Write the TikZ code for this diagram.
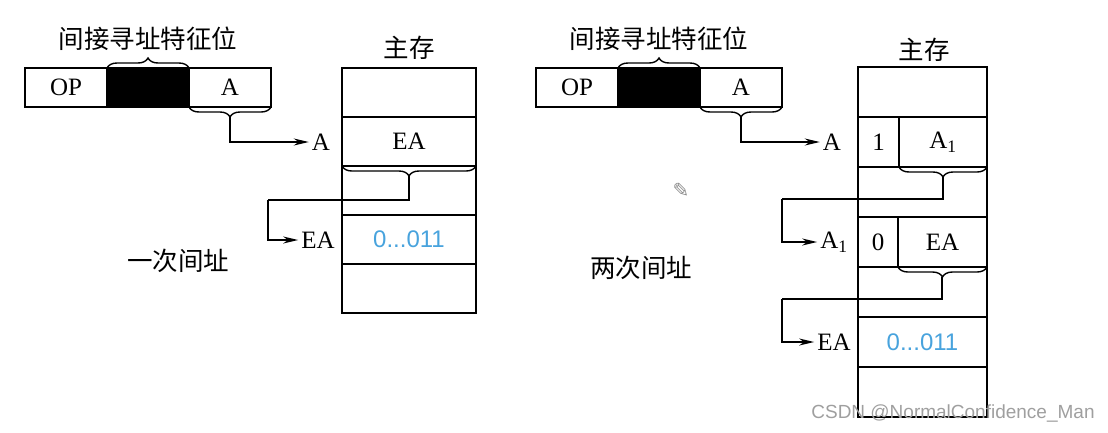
\documentclass[tikz,border=0pt]{standalone}
\usepackage{fontspec}
\setmainfont{Liberation Serif}
\newfontfamily\cjk{Noto Sans CJK SC}
\newfontfamily\sansf{Liberation Sans}
\newfontfamily\dejavu{DejaVu Sans}
\usetikzlibrary{decorations.pathreplacing,arrows.meta}
\definecolor{valblue}{RGB}{72,163,221}
\begin{document}
\begin{tikzpicture}[x=1pt,y=-1pt,
  base/.style={draw,line width=1.4pt,inner sep=0pt,outer sep=0pt,anchor=north west,font=\fontsize{25}{25}\selectfont},
  ins/.style={base,minimum width=82pt,minimum height=39pt},
  meml/.style={base,minimum width=134pt,minimum height=49pt},
  memr/.style={base,minimum height=50pt},
  val/.style={font=\sansf\fontsize{24}{24}\selectfont,text=valblue},
  lab/.style={inner sep=3pt,font=\fontsize{25}{25}\selectfont},
  cn/.style={font=\cjk\fontsize{25.5}{25.5}\selectfont},
  brace/.style={decorate,decoration={brace,amplitude=10pt},line width=1.4pt},
  conn/.style={line width=1.4pt,-{Stealth[length=15pt,width=7pt]}},
  plain/.style={line width=1.4pt}
]
\useasboundingbox (0,0) rectangle (1108,432);

% ---------- left: single indirect ----------
\node[ins] (op1) at (25,68) {OP};
\node[ins,fill=black] (x1) at (107,68) {};
\node[ins] (a1) at (189,68) {A};
\node[cn] (tl1) at (148,39) {间接寻址特征位};
\draw[brace] (x1.north west) -- (x1.north east);
\draw[brace] (a1.south east) -- (a1.south west);

\node[cn] (ml1) at (409,48) {主存};
\node[meml] (m10) at (342,68) {};
\node[meml] (m11) at (342,117) {EA};
\node[meml] (m12) at (342,166) {};
\node[meml] (m13) at (342,215) {};
\node[val] (v1) at (m13.center) {0...011};
\node[meml] (m14) at (342,264) {};
\draw[brace] (m11.south east) -- (m11.south west);

\node[lab] (la1) at (321,142) {A};
\node[lab] (lea1) at (318,240) {EA};
\coordinate (t1) at (230,117);
\coordinate (t2) at (409,176);
\coordinate (k1) at (268,200);
\draw[conn] (t1) |- (la1.west);
\draw[plain] (t2) |- (k1);
\draw[conn] (k1) |- (lea1.west);

\node[cn] (c1) at (178,261) {一次间址};

% ---------- right: double indirect ----------
\node[ins] (op2) at (536,68) {OP};
\node[ins,fill=black] (x2) at (618,68) {};
\node[ins] (a2) at (700,68) {A};
\node[cn] (tl2) at (659,39) {间接寻址特征位};
\draw[brace] (x2.north west) -- (x2.north east);
\draw[brace] (a2.south east) -- (a2.south west);

\node[cn] (ml2) at (924,50) {主存};
\node[memr,minimum width=129pt] (m20) at (858,67) {};
\node[memr,minimum width=41pt] (m21a) at (858,117) {1};
\node[memr,minimum width=88pt] (m21b) at (899,117) {A\textsubscript{1}};
\node[memr,minimum width=129pt] (m22) at (858,167) {};
\node[memr,minimum width=40pt] (m23a) at (858,217) {0};
\node[memr,minimum width=89pt] (m23b) at (898,217) {EA};
\node[memr,minimum width=129pt] (m24) at (858,267) {};
\node[memr,minimum width=129pt] (m25) at (858,317) {};
\node[val] (v2) at (m25.center) {0...011};
\node[memr,minimum width=129pt] (m26) at (858,367) {};
\draw[brace] (m21b.south east) -- (m21b.south west);
\draw[brace] (m23b.south east) -- (m23b.south west);

\node[lab] (la2) at (832,142) {A};
\node[lab] (la3) at (834,242) {A\textsubscript{1}};
\node[lab] (lea2) at (834,342) {EA};
\coordinate (t3) at (741,117);
\coordinate (t4) at (943,177);
\coordinate (k2) at (782,199);
\coordinate (t5) at (942,277);
\coordinate (k3) at (782,299);
\draw[conn] (t3) |- (la2.west);
\draw[plain] (t4) |- (k2);
\draw[conn] (k2) |- (la3.west);
\draw[plain] (t5) |- (k3);
\draw[conn] (k3) |- (lea2.west);

\node[cn] (c2) at (641,268) {两次间址};

\node[font=\dejavu\fontsize{20}{20}\selectfont,text=gray!90] (pen) at (681,190) {✎};
\node[font=\sansf\fontsize{19}{19}\selectfont,text=gray!75] (wm) at (953,413) {CSDN @NormalConfidence\_Man};
\end{tikzpicture}
\end{document}
